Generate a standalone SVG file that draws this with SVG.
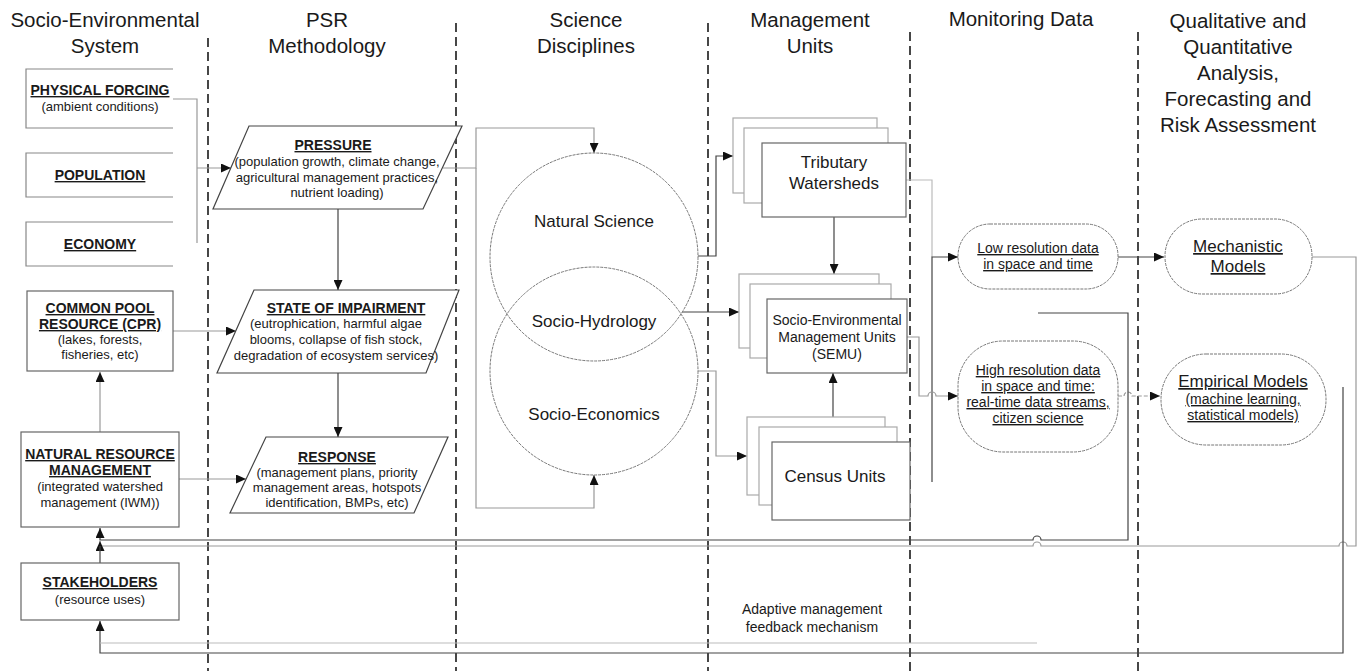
<svg xmlns="http://www.w3.org/2000/svg" width="1363" height="671" viewBox="0 0 1363 671">
<style>
text{font-family:"Liberation Sans",Arial,sans-serif;fill:#1a1a1a;text-anchor:middle}
.h{font-size:20.5px}
.b{font-size:14px;font-weight:bold;text-decoration:underline}
.s{font-size:13px}
.n{font-size:17px}
.m{font-size:14px}
.u{text-decoration:underline}
.sep{stroke:#333;stroke-width:1.8;stroke-dasharray:9 5;fill:none}
.box{fill:#fff;stroke:#666;stroke-width:1.2}
.open{fill:#fff;stroke:#888;stroke-width:1.2}
.back{fill:#fff;stroke:#aaa;stroke-width:1.2}
.para{fill:#fff;stroke:#444;stroke-width:1.2}
.soft{fill:#fff;stroke:#777;stroke-width:1;stroke-dasharray:3 1}
.circ{fill:none;stroke:#777;stroke-width:1;stroke-dasharray:3 1}
.c{fill:none;stroke:#444;stroke-width:1.2}
.cl{fill:none;stroke:#999;stroke-width:1.2}
.cx{fill:none;stroke:#bbb;stroke-width:1.2}
</style>
<defs>
<marker id="ah" markerWidth="10" markerHeight="9" refX="10" refY="4.5" orient="auto" markerUnits="userSpaceOnUse"><path d="M0,0 L10,4.5 L0,9 z" fill="#111"/></marker>
</defs>
<rect width="1363" height="671" fill="#fff"/>

<g id="separators">
<line class="sep" x1="208" y1="38" x2="208" y2="671"/>
<line class="sep" x1="456" y1="23" x2="456" y2="671"/>
<line class="sep" x1="708" y1="23" x2="708" y2="671"/>
<line class="sep" x1="910" y1="32" x2="910" y2="671"/>
<line class="sep" x1="1138" y1="32" x2="1138" y2="671"/>
</g>

<g id="headers">
<text class="h" x="105" y="27">Socio-Environmental</text>
<text class="h" x="105" y="53">System</text>
<text class="h" x="327" y="27">PSR</text>
<text class="h" x="327" y="53">Methodology</text>
<text class="h" x="586" y="27">Science</text>
<text class="h" x="586" y="53">Disciplines</text>
<text class="h" x="810" y="27">Management</text>
<text class="h" x="810" y="53">Units</text>
<text class="h" x="1021" y="26">Monitoring Data</text>
<text class="h" x="1238" y="28">Qualitative and</text>
<text class="h" x="1238" y="54">Quantitative</text>
<text class="h" x="1238" y="80">Analysis,</text>
<text class="h" x="1238" y="106">Forecasting and</text>
<text class="h" x="1238" y="132">Risk Assessment</text>
</g>

<g id="connectors">
<path class="cl" d="M173,99 H197 V243"/>
<path class="cl" d="M197,168 H231" marker-end="url(#ah)"/>
<path class="cl" d="M173,331 H236" marker-end="url(#ah)"/>
<path class="cl" d="M179,479 H246" marker-end="url(#ah)"/>
<path class="cl" d="M100,432 V372" marker-end="url(#ah)"/>
<path class="c" d="M338,209 V290" marker-end="url(#ah)"/>
<path class="c" d="M338,373 V437" marker-end="url(#ah)"/>
<path class="cl" d="M443,168 H476 V128 H594 V153" marker-end="url(#ah)"/>
<path class="cl" d="M476,168 V508 H594 V475" marker-end="url(#ah)"/>
<path class="c" d="M698,256 H716 V156 H733" marker-end="url(#ah)"/>
<path class="c" d="M682,312 H739" marker-end="url(#ah)"/>
<path class="cl" d="M698,371 H716 V456 H747" marker-end="url(#ah)"/>
<path class="c" d="M834,217 V274" marker-end="url(#ah)"/>
<path class="c" d="M833,417 V373" marker-end="url(#ah)"/>
<path class="cx" d="M906,180 H932 V257"/>
<path class="c" d="M932,482 V257 H958" marker-end="url(#ah)"/>
<path class="cl" d="M907,337 H919 V396 H928 a4,4 0 0 1 8,0 H958" marker-end="url(#ah)"/>
<path class="c" d="M1118,257 H1164" marker-end="url(#ah)"/>
<path class="cl" d="M1118,396 H1124 a4,4 0 0 1 8,0 H1160" stroke-dasharray="4 2" marker-end="url(#ah)"/>
<path class="c" d="M1038,313 H1128 V540 H1041 a4,4 0 0 0 -8,0 H100 V528" marker-end="url(#ah)"/>
<path class="cl" d="M1312,257 H1356 V546 H1347 a4,4 0 0 0 -8,0 H1041 a4,4 0 0 0 -8,0 H100 V541" marker-end="url(#ah)"/>
<path class="c" d="M100,563 V546"/>
<path class="c" d="M1343,387 V653 H100 V621" marker-end="url(#ah)"/>
<path class="cx" d="M1037,643 H100"/>
</g>

<g id="physical-forcing">
<path class="open" d="M173,69 H26 V128 H173"/>
<text class="b" x="100" y="95">PHYSICAL FORCING</text>
<text class="s" x="100" y="111">(ambient conditions)</text>
</g>
<g id="population">
<path class="open" d="M173,153 H26 V197 H173"/>
<text class="b" x="100" y="180">POPULATION</text>
</g>
<g id="economy">
<path class="open" d="M173,222 H26 V266 H173"/>
<text class="b" x="100" y="249">ECONOMY</text>
</g>
<g id="cpr">
<rect class="box" x="27" y="291" width="146" height="80"/>
<text class="b" x="100" y="313">COMMON POOL</text>
<text class="b" x="100" y="329">RESOURCE (CPR)</text>
<text class="s" x="100" y="344">(lakes, forests,</text>
<text class="s" x="100" y="359">fisheries, etc)</text>
</g>
<g id="nrm">
<rect class="box" x="21" y="432" width="158" height="95"/>
<text class="b" x="100" y="459">NATURAL RESOURCE</text>
<text class="b" x="100" y="475">MANAGEMENT</text>
<text class="s" x="100" y="491">(integrated watershed</text>
<text class="s" x="100" y="507">management (IWM))</text>
</g>
<g id="stakeholders">
<rect class="box" x="21" y="563" width="158" height="57"/>
<text class="b" x="100" y="587">STAKEHOLDERS</text>
<text class="s" x="100" y="604">(resource uses)</text>
</g>

<g id="pressure">
<polygon class="para" points="249,126 462,126 423,209 213,209"/>
<text class="b" x="333" y="150">PRESSURE</text>
<text class="s" x="337" y="166">(population growth, climate change,</text>
<text class="s" x="337" y="182">agricultural management practices,</text>
<text class="s" x="337" y="197">nutrient loading)</text>
</g>
<g id="state">
<polygon class="para" points="254,290 459,290 426,373 217,373"/>
<text class="b" x="346" y="313">STATE OF IMPAIRMENT</text>
<text class="s" x="336" y="328">(eutrophication, harmful algae</text>
<text class="s" x="336" y="344">blooms, collapse of fish stock,</text>
<text class="s" x="336" y="360">degradation of ecosystem services)</text>
</g>
<g id="response">
<polygon class="para" points="266,437 448,437 414,513 230,513"/>
<text class="b" x="337" y="462">RESPONSE</text>
<text class="s" x="337" y="477">(management plans, priority</text>
<text class="s" x="337" y="492">management areas, hotspots</text>
<text class="s" x="337" y="507">identification, BMPs, etc)</text>
</g>

<g id="disciplines">
<circle class="circ" cx="594" cy="257" r="104"/>
<circle class="circ" cx="594" cy="371" r="104"/>
<text class="n" x="594" y="227">Natural Science</text>
<text class="n" x="594" y="327">Socio-Hydrology</text>
<text class="n" x="594" y="420">Socio-Economics</text>
</g>

<g id="tributary">
<rect class="back" x="733" y="118" width="144" height="75"/>
<rect class="back" x="744" y="128" width="144" height="75"/>
<rect class="box" x="762" y="143" width="144" height="74"/>
<text class="n" x="834" y="168">Tributary</text>
<text class="n" x="834" y="189">Watersheds</text>
</g>
<g id="semu">
<rect class="back" x="739" y="274" width="140" height="74"/>
<rect class="back" x="750" y="284" width="141" height="74"/>
<rect class="box" x="767" y="299" width="140" height="74"/>
<text class="m" x="837" y="325">Socio-Environmental</text>
<text class="m" x="837" y="342">Management Units</text>
<text class="m" x="837" y="359">(SEMU)</text>
</g>
<g id="census">
<rect class="back" x="747" y="417" width="138" height="78"/>
<rect class="back" x="759" y="427" width="138" height="78"/>
<rect class="box" x="772" y="442" width="138" height="78"/>
<text class="n" x="835" y="482">Census Units</text>
</g>

<g id="low-res">
<rect class="soft" x="958" y="224" width="160" height="65" rx="32" ry="32"/>
<text class="m u" x="1038" y="253">Low resolution data</text>
<text class="m u" x="1038" y="269">in space and time</text>
</g>
<g id="high-res">
<rect class="soft" x="958" y="341" width="160" height="111" rx="45" ry="45"/>
<text class="m u" x="1038" y="375">High resolution data</text>
<text class="m u" x="1038" y="391">in space and time:</text>
<text class="m u" x="1038" y="407">real-time data streams,</text>
<text class="m u" x="1038" y="423">citizen science</text>
</g>

<g id="mechanistic">
<rect class="soft" x="1165" y="219" width="147" height="75" rx="37" ry="37"/>
<text class="n u" x="1238" y="252">Mechanistic</text>
<text class="n u" x="1238" y="272">Models</text>
</g>
<g id="empirical">
<rect class="soft" x="1161" y="354" width="165" height="91" rx="45" ry="45"/>
<text class="n u" x="1243" y="387">Empirical Models</text>
<text class="m u" x="1243" y="404">(machine learning,</text>
<text class="m u" x="1243" y="420">statistical models)</text>
</g>

<g id="feedback-label">
<text class="m" x="812" y="614">Adaptive management</text>
<text class="m" x="812" y="632">feedback mechanism</text>
</g>
</svg>
